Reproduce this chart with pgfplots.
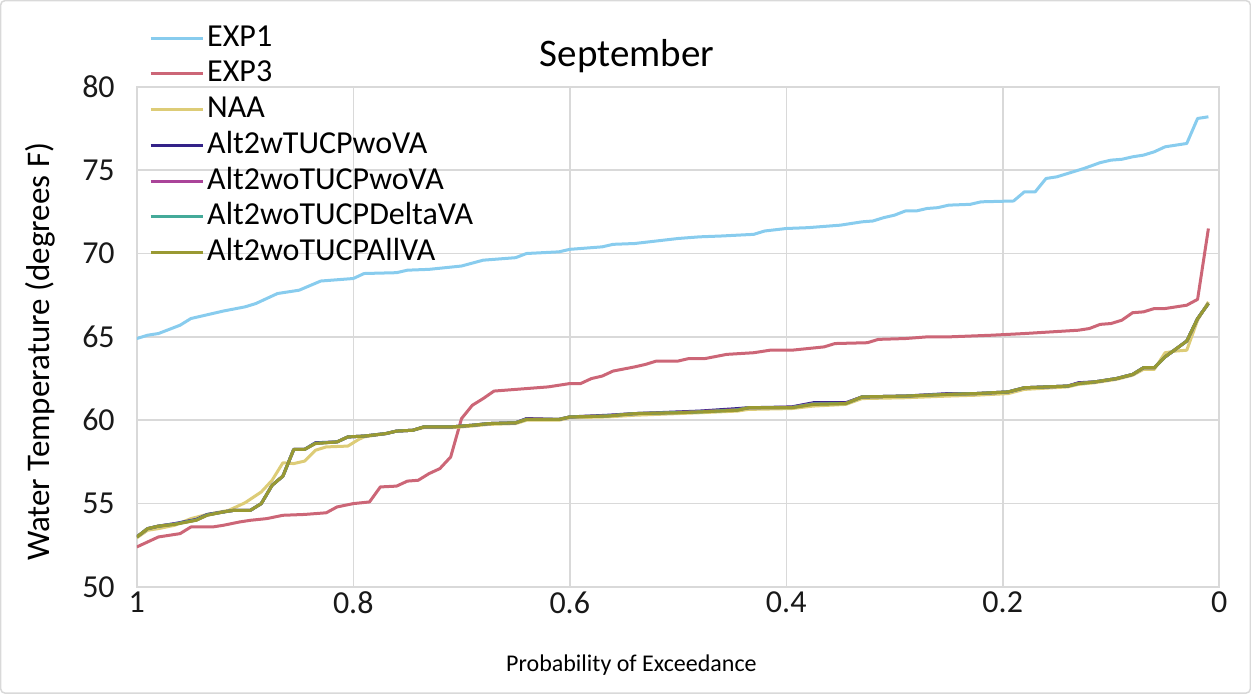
\documentclass[border=0pt]{standalone}
\usepackage{fontspec}
\setmainfont{Carlito}
\usepackage{pgfplots}
\usepackage{pgfplotstable}
\pgfplotsset{compat=1.18}
\usetikzlibrary{calc}

\definecolor{gridgray}{RGB}{217,217,217}
\definecolor{cexpone}{HTML}{88CCEE}
\definecolor{cexpthree}{HTML}{CC6677}
\definecolor{cnaa}{HTML}{DDCC77}
\definecolor{cwtucp}{HTML}{332288}
\definecolor{cwotucp}{HTML}{AA4499}
\definecolor{cdelta}{HTML}{44AA99}
\definecolor{callva}{HTML}{999933}

% Alt2 scenarios share the exceedance probabilities
\pgfplotstableread{
p     wtucp  wotucp delta  allva
1.000 53.00  53.00  53.00  53.00
0.990 53.50  53.50  53.50  53.50
0.980 53.65  53.65  53.65  53.65
0.965 53.80  53.78  53.77  53.75
0.945 54.05  54.02  54.02  54.00
0.935 54.35  54.32  54.32  54.30
0.920 54.50  54.50  54.50  54.50
0.910 54.60  54.60  54.60  54.60
0.895 54.60  54.60  54.60  54.60
0.885 55.00  55.00  55.00  55.00
0.875 56.10  56.10  56.10  56.10
0.865 56.65  56.65  56.65  56.65
0.855 58.25  58.25  58.25  58.25
0.845 58.25  58.25  58.25  58.25
0.835 58.65  58.62  58.62  58.60
0.815 58.70  58.70  58.70  58.70
0.805 59.00  59.00  59.00  59.00
0.790 59.05  59.05  59.05  59.05
0.770 59.20  59.20  59.20  59.20
0.760 59.35  59.35  59.35  59.35
0.745 59.40  59.40  59.40  59.40
0.735 59.60  59.60  59.60  59.60
0.710 59.60  59.60  59.60  59.60
0.690 59.70  59.70  59.70  59.70
0.675 59.80  59.80  59.80  59.80
0.650 59.85  59.85  59.85  59.85
0.640 60.10  60.07  60.06  60.05
0.610 60.05  60.05  60.05  60.05
0.600 60.20  60.20  60.20  60.20
0.565 60.30  60.27  60.26  60.25
0.540 60.40  60.40  60.40  60.40
0.500 60.50  60.47  60.46  60.45
0.480 60.55  60.52  60.50  60.50
0.445 60.70  60.64  60.62  60.60
0.435 60.75  60.75  60.75  60.75
0.395 60.80  60.77  60.76  60.75
0.375 61.05  61.00  60.98  60.95
0.345 61.05  61.02  61.00  61.00
0.330 61.40  61.40  61.40  61.40
0.290 61.45  61.45  61.45  61.45
0.250 61.60  61.57  61.56  61.55
0.225 61.60  61.60  61.60  61.60
0.195 61.70  61.70  61.70  61.70
0.180 61.95  61.95  61.95  61.95
0.140 62.05  62.05  62.05  62.05
0.130 62.25  62.22  62.20  62.20
0.115 62.30  62.30  62.30  62.30
0.095 62.50  62.50  62.50  62.50
0.080 62.75  62.75  62.75  62.75
0.070 63.15  63.15  63.15  63.15
0.060 63.15  63.15  63.15  63.15
0.050 63.80  63.80  63.80  63.80
0.030 64.75  64.75  64.75  64.75
0.020 66.10  66.10  66.10  66.10
0.010 67.00  67.00  67.00  67.00
}\alttwo

\begin{document}
\begin{tikzpicture}
\begin{axis}[
    name=ax,
    scale only axis, width=541pt, height=250pt,
    xmin=0, xmax=1, x dir=reverse,
    ymin=50, ymax=80,
    xtick={0,0.2,0.4,0.6,0.8,1},
    ytick={50,55,60,65,70,75,80},
    grid=major,
    major grid style={draw=gridgray, line width=0.75pt},
    axis line style={draw=gridgray, line width=0.75pt},
    major tick length=0pt,
    /pgf/number format/assume math mode=true,
    ticklabel style={font=\fontsize{16}{19}\selectfont, text=black!90},
    yticklabel style={xshift=-7.5pt},
    xticklabel style={yshift=1pt},
    title={September},
    title style={at={(axis description cs:0.453,1.038)}, anchor=center,
        font=\fontsize{19.5}{23}\selectfont},
    xlabel={Probability of Exceedance},
    xlabel style={at={(axis description cs:0.457,-0.156)}, anchor=center,
        font=\fontsize{12}{14}\selectfont},
    ylabel={Water Temperature (degrees F)},
    ylabel style={at={(axis description cs:-0.0896,0.47)}, anchor=center,
        font=\fontsize{16.5}{19}\selectfont},
    legend cell align=left,
    legend style={at={(axis description cs:0,1)}, anchor=north west,
        xshift=3pt, yshift=34pt, draw=none, fill=none,
        font=\fontsize{16}{19}\selectfont, row sep=2.85pt,
        nodes={text height=11.5pt, text depth=3.5pt, inner ysep=0pt, inner xsep=1.5pt}},
    legend image code/.code={\draw[#1, line width=1.5pt] (0pt,0pt) -- (26pt,0pt);},
    every axis plot/.append style={line width=1.5pt, no markers, line join=round},
]
\addplot[cexpone] coordinates {
(1.00,64.9) (0.99,65.1) (0.98,65.2) (0.96,65.7) (0.95,66.1) (0.93,66.4)
(0.92,66.55) (0.90,66.8) (0.89,67.0) (0.87,67.6) (0.85,67.8) (0.83,68.35)
(0.80,68.5) (0.79,68.8) (0.76,68.85) (0.75,69.0) (0.73,69.05) (0.70,69.25)
(0.68,69.6) (0.65,69.75) (0.64,70.0) (0.61,70.1) (0.60,70.25) (0.57,70.4)
(0.56,70.55) (0.54,70.6) (0.50,70.9) (0.48,71.0) (0.46,71.05) (0.43,71.15)
(0.42,71.35) (0.40,71.5) (0.38,71.55) (0.35,71.7) (0.33,71.9) (0.32,71.95)
(0.31,72.15) (0.30,72.3) (0.29,72.55) (0.28,72.55) (0.27,72.7) (0.26,72.75)
(0.25,72.9) (0.23,72.95) (0.22,73.1) (0.19,73.15) (0.18,73.7) (0.17,73.7)
(0.16,74.5) (0.15,74.6) (0.14,74.8) (0.125,75.1) (0.11,75.45) (0.10,75.6)
(0.09,75.65) (0.08,75.8) (0.07,75.9) (0.06,76.1) (0.05,76.4) (0.03,76.6)
(0.02,78.1) (0.01,78.2)
};
\addlegendentry{EXP1}
\addplot[cexpthree] coordinates {
(1.00,52.4) (0.99,52.7) (0.98,53.0) (0.96,53.2) (0.95,53.6) (0.93,53.6)
(0.92,53.7) (0.905,53.9) (0.895,54.0) (0.88,54.1) (0.865,54.3) (0.845,54.35)
(0.825,54.45) (0.815,54.8) (0.80,55.0) (0.785,55.1) (0.775,56.0) (0.76,56.05)
(0.75,56.35) (0.74,56.4) (0.73,56.8) (0.72,57.1) (0.71,57.8) (0.70,60.1)
(0.69,60.9) (0.68,61.3) (0.67,61.75) (0.65,61.85) (0.62,62.0) (0.60,62.2)
(0.59,62.2) (0.58,62.5) (0.57,62.65) (0.56,62.95) (0.54,63.2) (0.53,63.35)
(0.52,63.55) (0.50,63.55) (0.49,63.7) (0.475,63.7) (0.455,63.95) (0.43,64.05)
(0.415,64.2) (0.395,64.2) (0.38,64.3) (0.365,64.4) (0.355,64.6) (0.325,64.65)
(0.315,64.85) (0.29,64.9) (0.27,65.0) (0.25,65.0) (0.21,65.1) (0.18,65.2)
(0.13,65.4) (0.12,65.5) (0.11,65.75) (0.10,65.8) (0.09,66.0) (0.08,66.45)
(0.07,66.5) (0.06,66.7) (0.05,66.7) (0.03,66.9) (0.02,67.25) (0.01,71.5)
};
\addlegendentry{EXP3}
\addplot[cnaa] coordinates {
(1.00,52.95) (0.99,53.4) (0.98,53.5) (0.965,53.7) (0.95,54.1) (0.935,54.35)
(0.915,54.6) (0.90,55.05) (0.885,55.7) (0.875,56.4) (0.865,57.45) (0.855,57.4)
(0.845,57.55) (0.835,58.2) (0.825,58.4) (0.805,58.45) (0.795,58.85) (0.79,59.0)
(0.77,59.2) (0.76,59.35) (0.745,59.4) (0.735,59.55) (0.71,59.55) (0.69,59.65)
(0.675,59.75) (0.65,59.8) (0.64,60.0) (0.61,60.0) (0.60,60.15) (0.565,60.2)
(0.54,60.3) (0.50,60.4) (0.48,60.45) (0.445,60.55) (0.435,60.65) (0.395,60.7)
(0.375,60.85) (0.345,60.95) (0.33,61.3) (0.29,61.35) (0.25,61.45) (0.225,61.5)
(0.195,61.6) (0.18,61.85) (0.14,62.0) (0.13,62.15) (0.115,62.25) (0.095,62.45)
(0.08,62.7) (0.07,63.05) (0.06,63.05) (0.05,64.05) (0.04,64.15) (0.03,64.2)
(0.02,66.0) (0.01,67.1)
};
\addlegendentry{NAA}
\addplot[cwtucp] table[x=p, y=wtucp] {\alttwo};
\addlegendentry{Alt2wTUCPwoVA}
\addplot[cwotucp] table[x=p, y=wotucp] {\alttwo};
\addlegendentry{Alt2woTUCPwoVA}
\addplot[cdelta] table[x=p, y=delta] {\alttwo};
\addlegendentry{Alt2woTUCPDeltaVA}
\addplot[callva] table[x=p, y=allva] {\alttwo};
\addlegendentry{Alt2woTUCPAllVA}
\end{axis}
\draw[gridgray, line width=0.75pt, rounded corners=2pt]
    ($(ax.south west)+(-68pt,-53pt)$) rectangle ($(ax.north east)+(15.5pt,43pt)$);
\end{tikzpicture}
\end{document}
